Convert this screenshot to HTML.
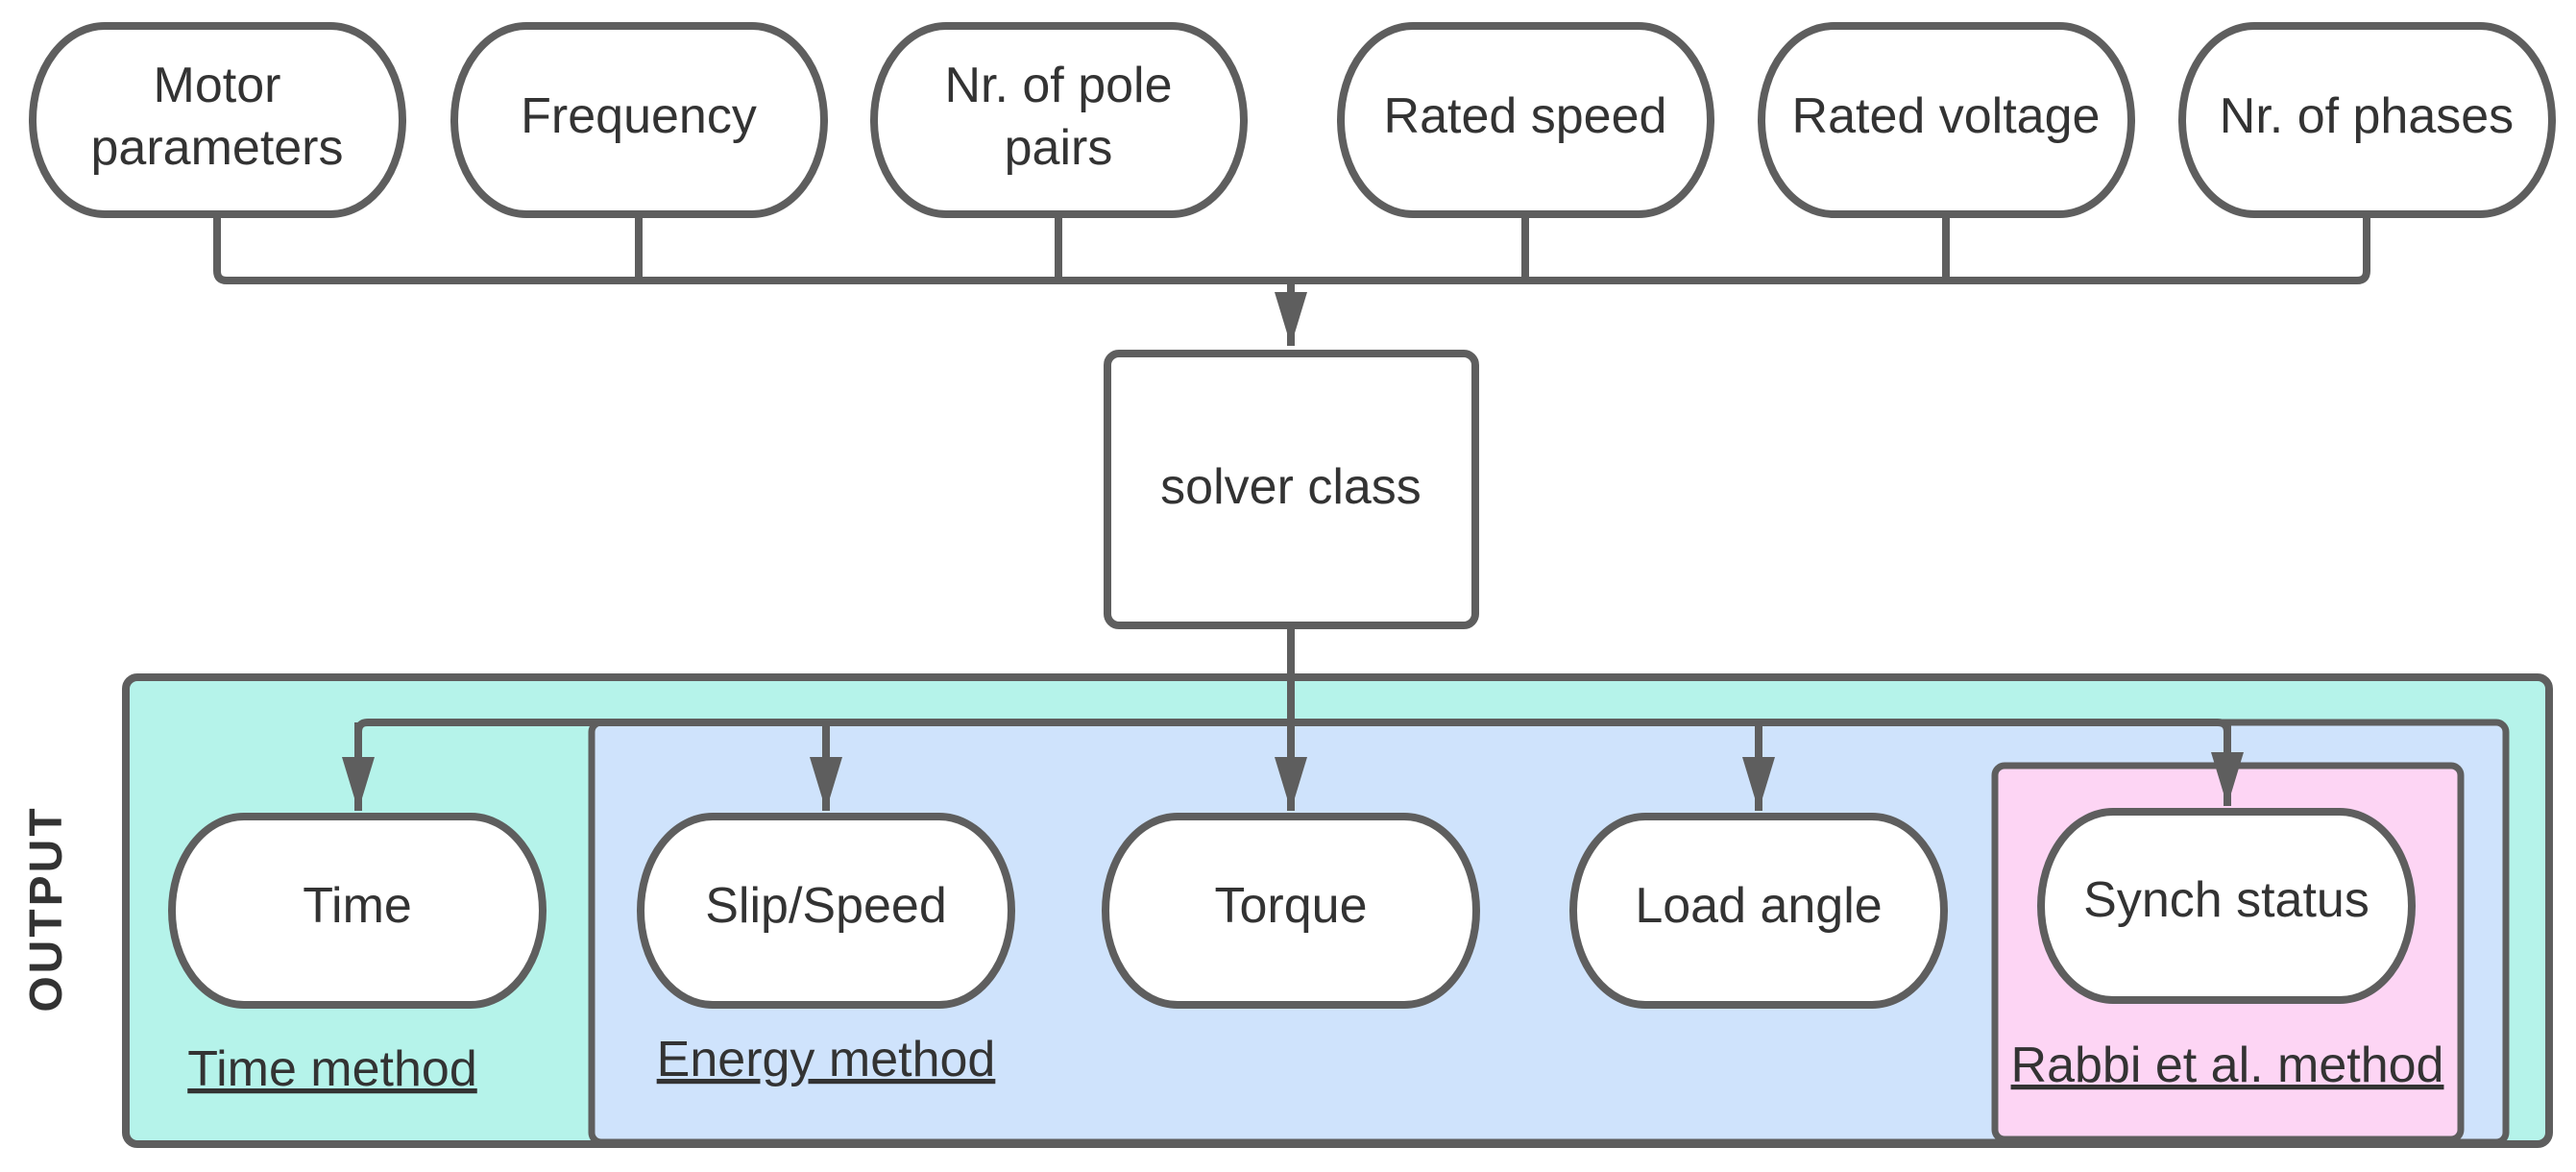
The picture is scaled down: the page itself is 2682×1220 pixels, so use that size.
<!DOCTYPE html>
<html><head><meta charset="utf-8"><style>
html,body{margin:0;padding:0;background:#fff;}
svg{display:block;}
text{font-family:"Liberation Sans",sans-serif;fill:#333;}
</style></head><body>
<svg width="2682" height="1220" viewBox="0 0 2682 1220" xmlns="http://www.w3.org/2000/svg">
<defs>
<marker id="ah" markerWidth="34" markerHeight="56" refX="17" refY="56" orient="0" markerUnits="userSpaceOnUse" viewBox="0 0 34 56">
<path d="M0,0 L34,0 L17,56 Z" fill="#5e5e5e"/>
</marker>
</defs>
<g stroke="#5e5e5e" stroke-width="8" fill="none" stroke-linejoin="round">
<rect x="131" y="705" width="2523" height="486" rx="12" fill="#b5f3ea"/>
<rect x="616" y="752" width="1993" height="437" rx="10" fill="#cfe3fc" stroke-width="7"/>
<rect x="2077" y="797" width="485" height="389" rx="10" fill="#fdd5f4" stroke-width="7"/>
<path d="M226,227 V282 Q226,292 236,292 H2454 Q2464,292 2464,282 V227"/>
<path d="M665,227 V292 M1102,227 V292 M1588,227 V292 M2026,227 V292"/>
<path d="M1344,292 V360" marker-end="url(#ah)"/>
<path d="M1344,655 V752"/>
<path d="M373,800 V762 Q373,752 383,752 H2309 Q2319,752 2319,762 V800"/>
<path d="M373,752 V844" marker-end="url(#ah)"/>
<path d="M860,752 V844" marker-end="url(#ah)"/>
<path d="M1344,752 V844" marker-end="url(#ah)"/>
<path d="M1831,752 V844" marker-end="url(#ah)"/>
<path d="M2319,752 V839" marker-end="url(#ah)"/>
<rect x="34" y="27" width="385" height="196" rx="75" ry="98" fill="#fff"/>
<rect x="473" y="27" width="385" height="196" rx="75" ry="98" fill="#fff"/>
<rect x="910" y="27" width="385" height="196" rx="75" ry="98" fill="#fff"/>
<rect x="1396" y="27" width="385" height="196" rx="75" ry="98" fill="#fff"/>
<rect x="1834" y="27" width="385" height="196" rx="75" ry="98" fill="#fff"/>
<rect x="2272" y="27" width="385" height="196" rx="75" ry="98" fill="#fff"/>
<rect x="1153" y="368" width="383" height="283" rx="12" fill="#fff"/>
<rect x="179" y="850" width="386" height="196" rx="75" ry="98" fill="#fff"/>
<rect x="667" y="850" width="386" height="196" rx="75" ry="98" fill="#fff"/>
<rect x="1151" y="850" width="386" height="196" rx="75" ry="98" fill="#fff"/>
<rect x="1638" y="850" width="386" height="196" rx="75" ry="98" fill="#fff"/>
<rect x="2125" y="845" width="386" height="196" rx="75" ry="98" fill="#fff"/>
</g>
<g font-size="52" text-anchor="middle">
<text x="226" y="106">Motor</text>
<text x="226" y="171">parameters</text>
<text x="665" y="138">Frequency</text>
<text x="1102" y="106">Nr. of pole</text>
<text x="1102" y="171">pairs</text>
<text x="1588" y="138">Rated speed</text>
<text x="2026" y="138">Rated voltage</text>
<text x="2464" y="138">Nr. of phases</text>
<text x="1344" y="524">solver class</text>
<text x="372" y="960">Time</text>
<text x="860" y="960">Slip/Speed</text>
<text x="1344" y="960">Torque</text>
<text x="1831" y="960">Load angle</text>
<text x="2318" y="954">Synch status</text>
<text x="346" y="1130" text-decoration="underline">Time method</text>
<text x="860" y="1120" text-decoration="underline">Energy method</text>
<text x="2319" y="1126" text-decoration="underline">Rabbi et al. method</text>
</g>
<text x="0" y="0" font-size="48" font-weight="bold" text-anchor="middle" letter-spacing="3" transform="translate(64,946) rotate(-90)">OUTPUT</text>
</svg>
</body></html>
